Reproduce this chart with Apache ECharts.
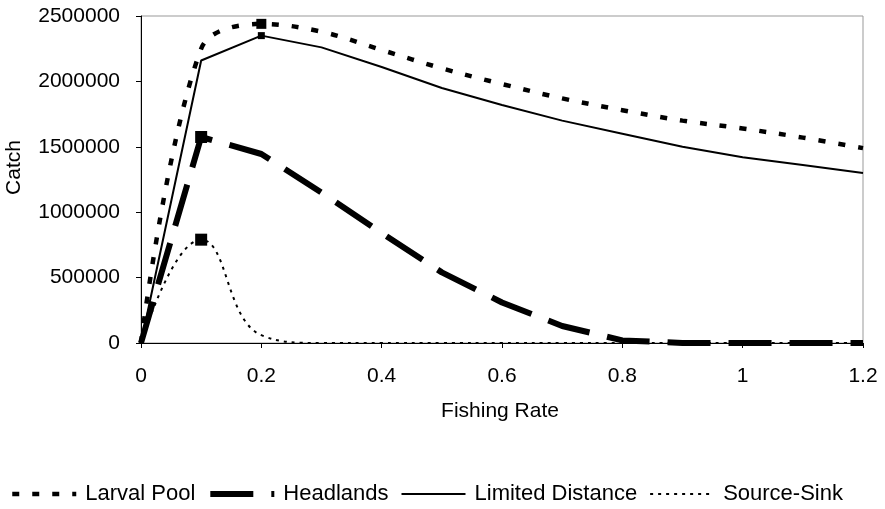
<!DOCTYPE html>
<html>
<head>
<meta charset="utf-8">
<script src="https://cdn.jsdelivr.net/npm/echarts@6/dist/echarts.min.js"></script>
<style>
html,body{margin:0;padding:0;background:#fff;}
#chart{width:885px;height:509px;}
</style>
</head>
<body>
<div id="chart"></div>
<script>
var fishingRate = [0, 0.1, 0.2, 0.3, 0.4, 0.5, 0.6, 0.7, 0.8, 0.9, 1.0, 1.1, 1.2];
var larvalPool = [0, 2250000, 2440000, 2380000, 2240000, 2100000, 1980000, 1870000, 1780000, 1700000, 1640000, 1570000, 1490000];
var headlands = [0, 1575000, 1445000, 1150000, 840000, 540000, 310000, 130000, 20000, 0, 0, 0, 0];
var limitedDistance = [0, 2160000, 2350000, 2260000, 2110000, 1950000, 1820000, 1700000, 1600000, 1500000, 1420000, 1360000, 1300000];
var sourceSink = [0, 790000, 60000, 0, 0, 0, 0, 0, 0, 0, 0, 0, 0];
var seriesNames = ['Larval Pool', 'Headlands', 'Limited Distance', 'Source-Sink'];
var markerIndex = { 'Larval Pool': 2, 'Headlands': 1, 'Limited Distance': 2, 'Source-Sink': 1 };

var styles = {
  'Larval Pool': { width: 4.5, type: [7, 13], smooth: 0.35, marker: 10 },
  'Headlands': { width: 6, type: [43, 18], smooth: false, marker: 12 },
  'Limited Distance': { width: 2, type: 'solid', smooth: false, marker: 7 },
  'Source-Sink': { width: 2, type: [3, 5], smooth: 0.45, marker: 12 }
};
var valuesByName = {
  'Larval Pool': larvalPool,
  'Headlands': headlands,
  'Limited Distance': limitedDistance,
  'Source-Sink': sourceSink
};

function build(name) {
  var vals = valuesByName[name];
  return fishingRate.map(function (x, i) {
    var item = { value: [x, vals[i]] };
    if (i === markerIndex[name]) {
      item.symbol = 'rect';
      item.symbolSize = styles[name].marker;
    }
    return item;
  });
}

var chart = echarts.init(document.getElementById('chart'));
var font = 'Liberation Sans, Arial, sans-serif';
chart.setOption({
  animation: false,
  backgroundColor: '#fff',
  grid: { left: 141, right: 22, top: 16, bottom: 166, containLabel: false, outerBoundsMode: 'none',
    show: true, borderColor: '#999', borderWidth: 1 },
  xAxis: {
    type: 'value', min: 0, max: 1.2, interval: 0.2,
    name: 'Fishing Rate', nameLocation: 'middle', nameGap: 58,
    nameTextStyle: { fontFamily: font, fontSize: 21, color: '#000', verticalAlign: 'top', padding: [0, 0, 0, -4] },
    axisLine: { lineStyle: { color: '#000', width: 1 } },
    axisTick: { show: true, inside: false, length: 5, lineStyle: { color: '#000' } },
    axisLabel: { fontFamily: font, fontSize: 21, color: '#000', margin: 23,
      formatter: function (v) { return String(Math.round(v * 10) / 10); } },
    splitLine: { show: false }
  },
  yAxis: {
    type: 'value', min: 0, max: 2500000, interval: 500000,
    name: 'Catch', nameLocation: 'middle', nameGap: 116, nameRotate: 90,
    nameTextStyle: { fontFamily: font, fontSize: 21, color: '#000', padding: [0, 0, 0, 24] },
    axisLine: { show: true, lineStyle: { color: '#000', width: 1 } },
    axisTick: { show: true, inside: false, length: 5, lineStyle: { color: '#000' } },
    axisLabel: { fontFamily: font, fontSize: 21, color: '#000', margin: 21,
      formatter: function (v) { return String(v); } },
    splitLine: { show: false }
  },
  legend: {
    top: 483, left: 10, padding: 0, itemWidth: 64, itemHeight: 14, itemGap: 12,
    itemStyle: { opacity: 0 },
    textStyle: { fontFamily: font, fontSize: 22, color: '#000', padding: [0, 0, 0, 4] },
    data: seriesNames.map(function (n) {
      return { name: n, lineStyle: { color: '#000', width: styles[n].width, type: styles[n].type } };
    })
  },
  series: seriesNames.map(function (n) {
    return {
      name: n, type: 'line', smooth: styles[n].smooth, symbol: 'none', color: '#000',
      data: build(n),
      lineStyle: { color: '#000', width: styles[n].width, type: styles[n].type },
      itemStyle: { color: '#000' }
    };
  })
});
</script>
</body>
</html>
